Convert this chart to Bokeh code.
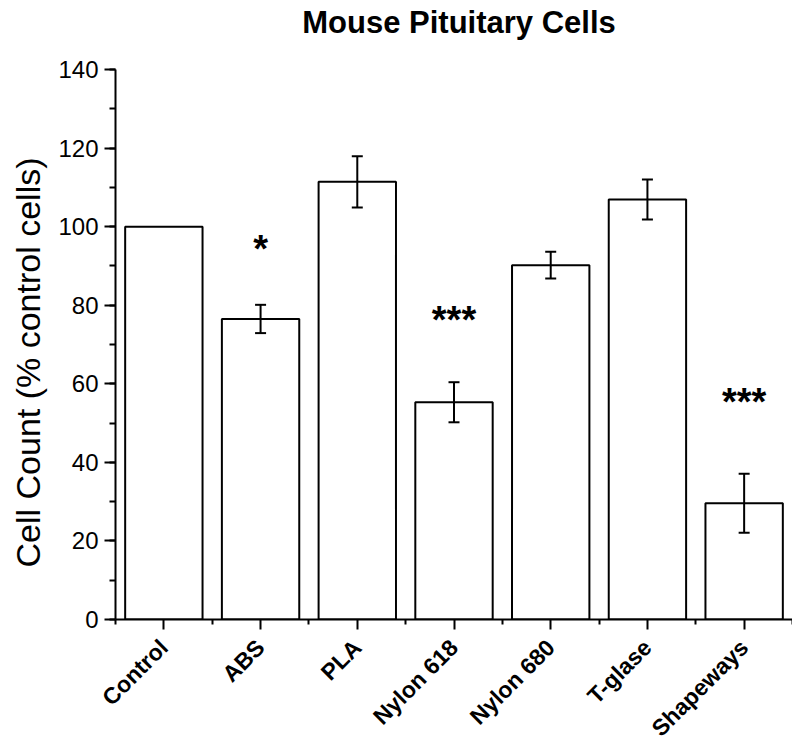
from bokeh.plotting import figure
from bokeh.models import (ColumnDataSource, FixedTicker, SingleIntervalTicker,
                          Whisker, TeeHead, Range1d, Title)
from bokeh.core.properties import value
from bokeh.embed import file_html
from bokeh.resources import INLINE

# ---- data ----
categories = ["Control", "ABS", "PLA", "Nylon 618", "Nylon 680", "T-glase", "Shapeways"]
cell_count = [100.0, 76.5, 111.4, 55.3, 90.2, 106.9, 29.6]
sem = [0.0, 3.6, 6.5, 5.1, 3.4, 5.1, 7.5]
significance = ["", "*", "", "***", "", "", "***"]
title_text = "Mouse Pituitary Cells"
y_label_text = "Cell Count (% control cells)"

FONT = "Liberation Sans"
Y_MAX = 140

# layout: the axis spans 550 px; the frame extends above it to hold the title
AXIS_PX = 550
TOP_PX = 69
y_end = Y_MAX * (AXIS_PX + TOP_PX) / AXIS_PX

xs = [i + 0.5 for i in range(len(categories))]
upper = [v + e for v, e in zip(cell_count, sem)]
lower = [v - e for v, e in zip(cell_count, sem)]
has_err = [e > 0 for e in sem]

src = ColumnDataSource(dict(x=xs, top=cell_count))
err_src = ColumnDataSource(dict(
    x=[x for x, h in zip(xs, has_err) if h],
    upper=[u for u, h in zip(upper, has_err) if h],
    lower=[l for l, h in zip(lower, has_err) if h],
))
sig_src = ColumnDataSource(dict(
    x=[x for x, s in zip(xs, significance) if s],
    y=[v + 2 * e for v, e, s in zip(cell_count, sem, significance) if s],
    text=[s for s in significance if s],
))

p = figure(frame_width=677, frame_height=AXIS_PX + TOP_PX, output_backend="svg",
           toolbar_location=None,
           x_range=Range1d(0, len(categories)), y_range=Range1d(0, y_end),
           min_border_left=115, min_border_right=0, min_border_top=0,
           min_border_bottom=110)

p.outline_line_color = None
p.xgrid.visible = False
p.ygrid.visible = False
p.background_fill_color = "white"
p.border_fill_color = "white"

p.vbar(x="x", top="top", width=0.8, bottom=0, source=src,
       fill_color="white", line_color="black", line_width=2)

p.add_layout(Whisker(base="x", upper="upper", lower="lower", source=err_src,
                     level="overlay", line_color="black", line_width=2,
                     upper_head=TeeHead(size=11, line_width=2, line_color="black"),
                     lower_head=TeeHead(size=11, line_width=2, line_color="black")))

p.text(x="x", y="y", text="text", source=sig_src, y_offset=-42,
       text_font=value(FONT), text_font_size="38px", text_font_style="bold",
       text_align="center", text_baseline="middle", text_color="black")

# title drawn at the top of the frame
p.text(x=[len(categories) / 2], y=[y_end], text=[title_text], x_offset=5, y_offset=4,
       text_font=value(FONT), text_font_size="31px", text_font_style="bold",
       text_align="center", text_baseline="top", text_color="black")

# y-axis label as a title on the left side
p.add_layout(Title(text=y_label_text, align="left", offset=52, vertical_align="top",
                   standoff=14, text_font=FONT, text_font_size="34px",
                   text_font_style="normal", text_color="black"), "left")

# y axis
ya = p.yaxis[0]
ya.bounds = (0, Y_MAX)
ya.ticker = SingleIntervalTicker(interval=20, num_minor_ticks=2)
ya.major_label_text_font = FONT
ya.major_label_text_font_size = "24px"
ya.major_label_standoff = 6
ya.major_tick_out = 11
ya.major_tick_in = 0
ya.minor_tick_out = 6
ya.minor_tick_in = 0
ya.axis_line_width = 2
ya.major_tick_line_width = 2
ya.minor_tick_line_width = 2
ya.axis_line_color = "black"
ya.major_label_text_color = "black"

# x axis
xa = p.xaxis[0]
xa.ticker = FixedTicker(ticks=xs, minor_ticks=list(range(len(categories) + 1)))
xa.major_label_overrides = {x: c for x, c in zip(xs, categories)}
xa.major_label_orientation = 0.785398
xa.major_label_text_font = FONT
xa.major_label_text_font_size = "23px"
xa.major_label_text_font_style = "bold"
xa.major_label_standoff = 14
xa.major_tick_out = 10
xa.major_tick_in = 0
xa.minor_tick_out = 5
xa.minor_tick_in = 0
xa.axis_line_width = 2
xa.major_tick_line_width = 2
xa.minor_tick_line_width = 2
xa.axis_line_color = "black"
xa.major_label_text_color = "black"

open("out.html", "w").write(file_html(p, INLINE))
